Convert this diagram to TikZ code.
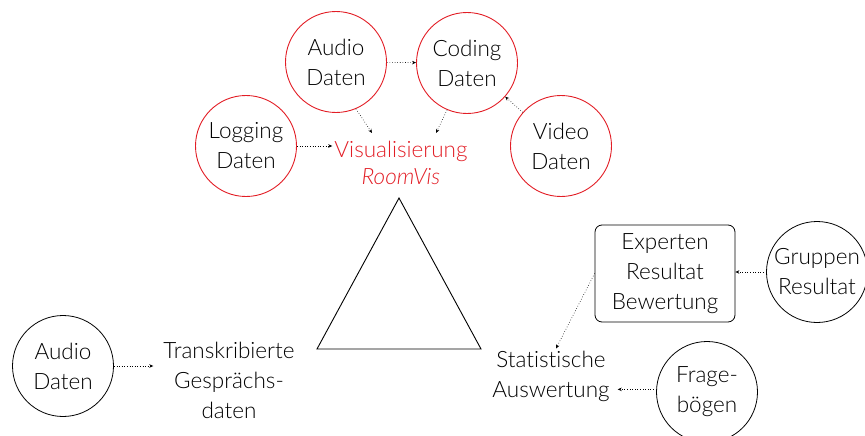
\documentclass[tikz,border=0pt]{standalone}
\usepackage{fontspec}
\setmainfont{Lato Light}[Ligatures={NoCommon}]
\usetikzlibrary{arrows.meta,calc}
\definecolor{vred}{RGB}{226,30,38}
\begin{document}
\begin{tikzpicture}[x=1pt,y=1pt,
  txt/.style={align=center,font=\fontsize{22.5}{30}\selectfont,inner sep=2pt},
  rcirc/.style={txt,circle,draw=vred,line width=0.9pt,minimum size=101pt,inner sep=0pt},
  bcirc/.style={txt,circle,draw=black,line width=0.8pt,minimum size=101pt,inner sep=0pt},
  dots/.style={dotted,line width=0.6pt,-{Stealth[length=4pt,width=3.5pt]}},
  tri/.style={line width=0.9pt,line join=miter}]
\useasboundingbox (0,0) rectangle (865,-436);
\clip (0,0) rectangle (865,-436);
% red cluster
\node[rcirc] (audioR) at (336,-62) {Audio\\Daten};
\node[rcirc] (codingR) at (467,-63) {Coding\\Daten};
\node[rcirc] (loggingR) at (246,-146) {Logging\\Daten};
\node[rcirc] (videoR) at (561,-146) {Video\\Daten};
\node[txt,text=vred,anchor=north,font=\fontsize{22.5}{27}\selectfont] (vis) at (401,-139) {Visualisierung\\\textit{RoomVis}};
% triangle
\coordinate (tA) at (399,-198);
\coordinate (tB) at (317,-349);
\coordinate (tC) at (481,-349);
\draw[tri] (tA) -- (tB) -- (tC) -- cycle;
% bottom left
\node[bcirc] (audioB) at (63,-366) {Audio\\Daten};
\node[txt] (trans) at (229,-380) {Transkribierte\\Gesprächs-\\daten};
% bottom right
\node[txt] (stat) at (551,-376) {Statistische\\Auswertung};
\node[txt,draw,rounded corners=7pt,line width=0.8pt,minimum width=140pt,minimum height=97pt] (exp) at (665,-273.5) {Experten\\Resultat\\Bewertung};
\node[bcirc] (grp) at (817,-272) {Gruppen\\Resultat};
\node[bcirc] (frage) at (707,-392) {Frage-\\bögen};
% connectors
\draw[dots] (audioR) -- (codingR);
\draw[dots] (audioR.-67) -- ($(vis.north)+(-29,6)$);
\draw[dots] (codingR.-113) -- ($(vis.north)+(35,6)$);
\draw[dots] (loggingR) -- (loggingR -| vis.west);
\draw[dots] (videoR) -- (codingR);
\draw[dots] (audioB) -- ($(audioB -| trans.west)+(-8,0)$);
\draw[dots] (grp) -- (grp -| exp.east);
\draw[dots] (exp.west) -- ($(stat.north)+(5,0)$);
\draw[dots] (frage.177) -- ($(frage.177 -| stat.east)+(6,0)$);
\end{tikzpicture}
\end{document}
